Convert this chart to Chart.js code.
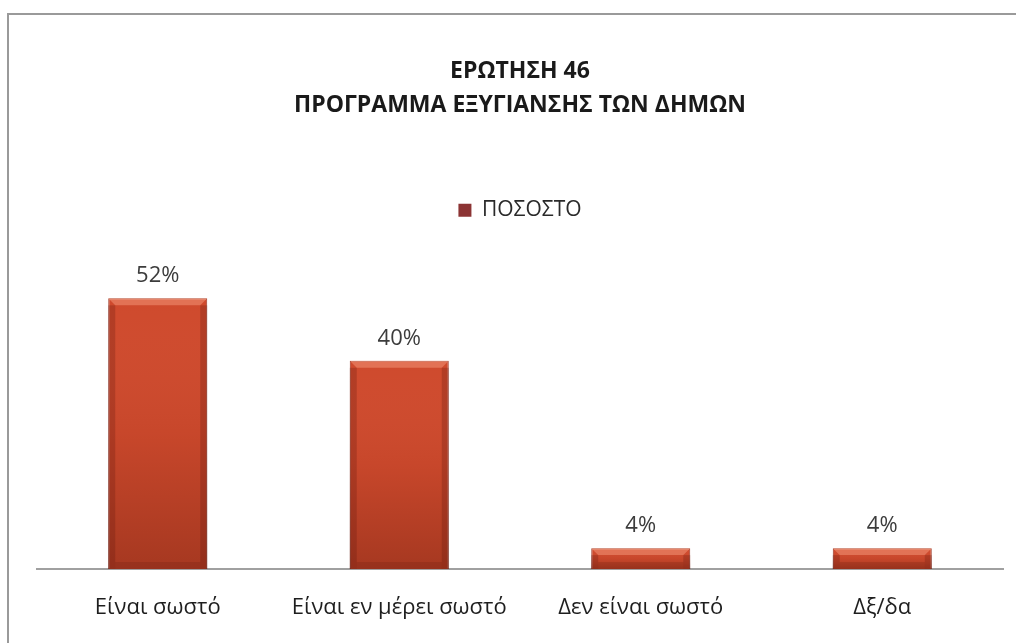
<!DOCTYPE html>
<html>
<head>
<meta charset="utf-8">
<script src="https://cdn.jsdelivr.net/npm/chart.js@4.4.0/dist/chart.umd.min.js"></script>
<style>
    html, body { margin: 0; padding: 0; background: #ffffff; }
    .frame {
        position: absolute;
        left: 7px;
        top: 13px;
        width: 1009px;
        height: 630px;
        border-left: 2px solid #9a9a9a;
        border-top: 2px solid #9a9a9a;
    }
    .chart-box {
        position: absolute;
        left: 0;
        top: 0;
        width: 1016px;
        height: 643px;
    }
</style>
</head>
<body>
<div class="frame"></div>
<div class="chart-box"><canvas id="surveyChart"></canvas></div>
<script>
// Survey question 46 answers
const categories = ['Είναι σωστό', 'Είναι εν μέρει σωστό', 'Δεν είναι σωστό', 'Δξ/δα'];
const percentages = [52, 40, 4, 4];
const seriesName = 'ΠΟΣΟΣΤΟ';
const titleLines = ['ΕΡΩΤΗΣΗ 46', 'ΠΡΟΓΡΑΜΜΑ ΕΞΥΓΙΑΝΣΗΣ ΤΩΝ ΔΗΜΩΝ'];

const FONT = "'Open Sans', 'DejaVu Sans', sans-serif";

// Writes the percentage above each bar and adds a soft bevel to the bars
const barDecor = {
    id: 'barDecor',
    afterDatasetsDraw(chart) {
        const ctx = chart.ctx;
        const meta = chart.getDatasetMeta(0);
        const values = chart.data.datasets[0].data;
        meta.data.forEach((bar, i) => {
            const left = bar.x - bar.width / 2;
            const top = bar.y;
            const h = bar.base - bar.y;
            const w = bar.width;
            const b = Math.min(7, h / 3);
            ctx.save();
            // shade toward the bottom of the bar
            const shade = ctx.createLinearGradient(0, top, 0, top + h);
            shade.addColorStop(0, 'rgba(255, 255, 255, 0)');
            shade.addColorStop(0.5, 'rgba(60, 10, 0, 0.05)');
            shade.addColorStop(1, 'rgba(60, 10, 0, 0.28)');
            ctx.fillStyle = shade;
            ctx.fillRect(left, top, w, h);
            // lighter top bevel
            ctx.fillStyle = 'rgba(255, 175, 145, 0.4)';
            ctx.beginPath();
            ctx.moveTo(left, top);
            ctx.lineTo(left + w, top);
            ctx.lineTo(left + w - b, top + b);
            ctx.lineTo(left + b, top + b);
            ctx.closePath();
            ctx.fill();
            // darker sides and bottom
            ctx.fillStyle = 'rgba(90, 20, 10, 0.25)';
            ctx.fillRect(left, top + b, b, h - b);
            ctx.fillRect(left + w - b, top + b, b, h - b);
            ctx.fillStyle = 'rgba(90, 20, 10, 0.18)';
            ctx.fillRect(left + b, top + h - b, w - 2 * b, b);
            ctx.restore();

            ctx.save();
            ctx.fillStyle = '#3c3c3c';
            ctx.font = '22px ' + FONT;
            ctx.textAlign = 'center';
            ctx.textBaseline = 'alphabetic';
            ctx.fillText(values[i] + '%', bar.x, bar.y - 16);
            ctx.restore();
        });
    }
};

document.addEventListener('DOMContentLoaded', function() {
    const ctx = document.getElementById('surveyChart').getContext('2d');
    new Chart(ctx, {
        type: 'bar',
        data: {
            labels: categories,
            datasets: [{
                label: seriesName,
                data: percentages,
                backgroundColor: '#cf4a2d',
                borderColor: '#9a3220',
                borderWidth: 1,
                categoryPercentage: 1,
                barPercentage: 0.41
            }]
        },
        options: {
            responsive: true,
            maintainAspectRatio: false,
            animation: false,
            layout: {
                padding: { left: 37, right: 13, top: 55, bottom: 0 }
            },
            plugins: {
                title: {
                    display: true,
                    text: titleLines,
                    color: '#1a1a1a',
                    font: { family: FONT, size: 23, weight: 'bold', lineHeight: 1.45 },
                    padding: { top: 0, bottom: 70 }
                },
                legend: {
                    display: true,
                    labels: {
                        color: '#2a2a2a',
                        font: { family: FONT, size: 21 },
                        boxWidth: 13,
                        boxHeight: 13,
                        padding: 8,
                        generateLabels: function(chart) {
                            return [{
                                text: seriesName,
                                fillStyle: '#8c3434',
                                strokeStyle: '#8c3434',
                                lineWidth: 0,
                                fontColor: '#2a2a2a',
                                datasetIndex: 0
                            }];
                        }
                    }
                },
                tooltip: { enabled: false }
            },
            scales: {
                x: {
                    grid: { display: false, drawTicks: false },
                    border: { color: '#a0a0a0', width: 2 },
                    ticks: {
                        color: '#1e1e1e',
                        font: { family: FONT, size: 22 },
                        padding: 26
                    },
                    afterFit: function(scale) {
                        scale.height = 74;
                    }
                },
                y: {
                    display: false,
                    min: 0,
                    max: 65
                }
            }
        },
        plugins: [barDecor]
    });
});
</script>
</body>
</html>
